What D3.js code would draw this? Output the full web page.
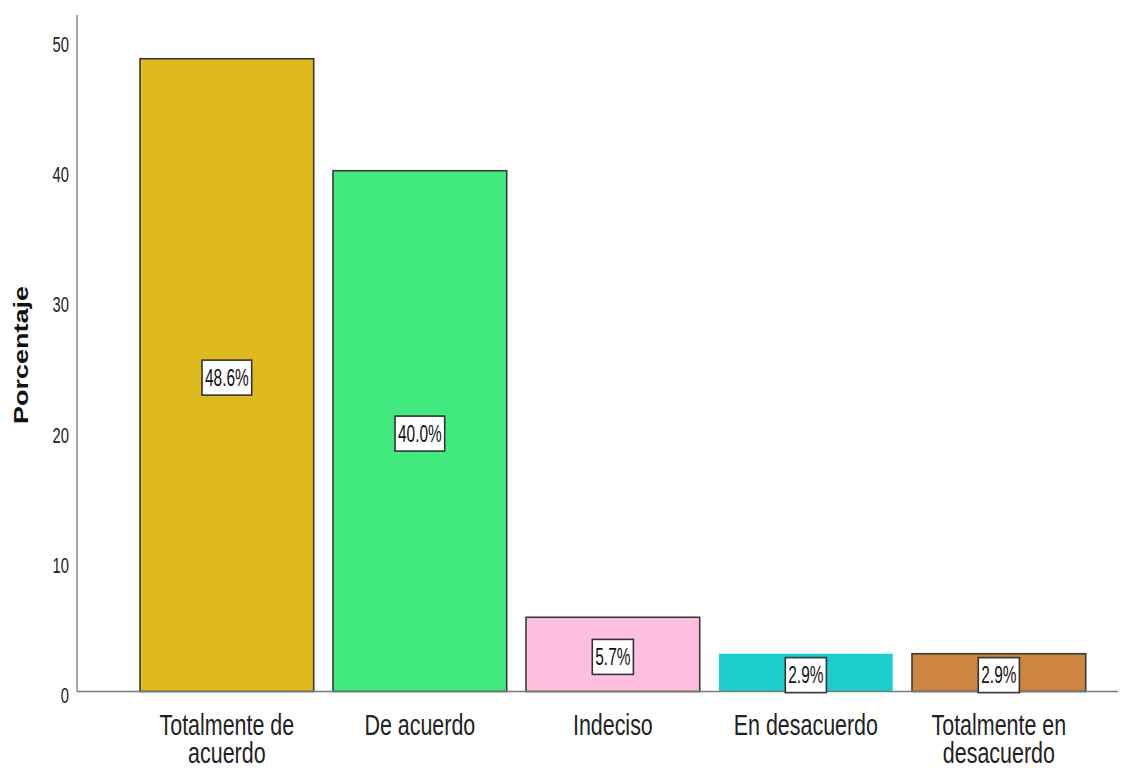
<!DOCTYPE html>
<html>
<head>
<meta charset="utf-8">
<script src="https://cdn.jsdelivr.net/npm/d3@7"></script>
<style>
  html, body { margin: 0; padding: 0; background: #fff; }
  svg { display: block; font-family: "Liberation Sans", Arial, sans-serif; }
</style>
</head>
<body>
<svg id="chart" width="1123" height="769"></svg>
<script>
// ---- data ----
const categories = ["Totalmente de acuerdo", "De acuerdo", "Indeciso", "En desacuerdo", "Totalmente en desacuerdo"];
const values = [48.6, 40.0, 5.7, 2.9, 2.9];
const yTicks = [0, 10, 20, 30, 40, 50];
const yTitle = "Porcentaje";
// ---- styles ----
const barColors = ["#DFBA1F", "#42E97F", "#FFBFDF", "#1DCDCD", "#CD853F"];
const barStrokes = ["#3a3a3a", "#3a3a3a", "#3a3a3a", "none", "#3a3a3a"];
const SX = 0.67; // horizontal text compression
const SXCAT = 0.715;

const svg = d3.select("#chart");

const x = d3.scaleBand()
  .domain(categories)
  .range([130.35, 1095.35])
  .paddingInner(0.1)
  .paddingOuter(0.05);

const y = d3.scaleLinear()
  .domain([0, 50])
  .range([691.5, 40.5]);

const axisX = 77;

// bars
svg.append("g").selectAll("rect")
  .data(values)
  .join("rect")
  .attr("x", (d, i) => x(categories[i]))
  .attr("y", d => y(d))
  .attr("width", x.bandwidth())
  .attr("height", d => y(0) - y(d))
  .attr("fill", (d, i) => barColors[i])
  .attr("stroke", (d, i) => barStrokes[i])
  .attr("stroke-width", 1.6);

// axes lines
svg.append("line")
  .attr("x1", axisX).attr("x2", axisX)
  .attr("y1", 15).attr("y2", y(0))
  .attr("stroke", "#8f8f8f").attr("stroke-width", 1.6);
svg.append("line")
  .attr("x1", axisX).attr("x2", 1118)
  .attr("y1", y(0)).attr("y2", y(0))
  .attr("stroke", "#7a7a7a").attr("stroke-width", 1.6);

// y axis ticks via d3 axis
const yAxisG = svg.append("g")
  .attr("transform", `translate(${axisX},0)`)
  .call(d3.axisLeft(y).tickValues(yTicks).tickSize(0).tickFormat(d3.format("d")));
yAxisG.select(".domain").remove();
yAxisG.selectAll("text")
  .attr("x", 0)
  .attr("y", 4)
  .attr("dy", "0.32em")
  .attr("transform", `translate(-8,0) scale(${SX},1)`)
  .attr("fill", "#222")
  .style("font-size", "22px")
  .style("font-family", "'Liberation Sans', Arial, sans-serif")
  .attr("text-anchor", "end");

// x axis category labels (wrapped)
const xLab = svg.append("g");
categories.forEach(cat => {
  const cx = x(cat) + x.bandwidth() / 2;
  const g = xLab.append("g").attr("transform", `translate(${cx},${y(0) + 43.5}) scale(${SXCAT},1)`);
  const words = cat.split(" ");
  const lines = [];
  let cur = [];
  const probe = g.append("text").style("font-size", "30px");
  words.forEach(w => {
    const test = cur.concat([w]).join(" ");
    probe.text(test);
    if (cur.length && probe.node().getComputedTextLength() * SXCAT > x.bandwidth()) {
      lines.push(cur.join(" "));
      cur = [w];
    } else {
      cur.push(w);
    }
  });
  lines.push(cur.join(" "));
  probe.remove();
  lines.forEach((ln, k) => {
    g.append("text")
      .attr("x", 0)
      .attr("y", k * 28.5)
      .attr("text-anchor", "middle")
      .attr("fill", "#222")
      .style("font-size", "30px")
      .text(ln);
  });
});

// y title
svg.append("text")
  .attr("transform", `translate(28,355) scale(0.78,1) rotate(-90)`)
  .attr("text-anchor", "middle")
  .attr("font-weight", "bold")
  .attr("fill", "#111")
  .style("font-size", "27px")
  .text(yTitle);

// value labels in boxes
const fmt = d => d3.format(".1f")(d) + "%";
values.forEach((v, i) => {
  const cx = x(categories[i]) + x.bandwidth() / 2;
  const cy = (y(v) + y(0)) / 2 + 2.5;
  const g = svg.append("g");
  const t = g.append("text")
    .attr("x", 0).attr("y", 0)
    .attr("dy", "0.35em")
    .attr("text-anchor", "middle")
    .attr("fill", "#111")
    .style("font-size", "23px")
    .attr("transform", `translate(${cx},${cy}) scale(${SX},1)`)
    .text(fmt(v));
  const w = t.node().getComputedTextLength() * SX + 6;
  const h = 35;
  g.insert("rect", "text")
    .attr("x", cx - w / 2)
    .attr("y", cy - h / 2)
    .attr("width", w)
    .attr("height", h)
    .attr("fill", "#fff")
    .attr("stroke", "#333")
    .attr("stroke-width", 1.6);
});
</script>
</body>
</html>
